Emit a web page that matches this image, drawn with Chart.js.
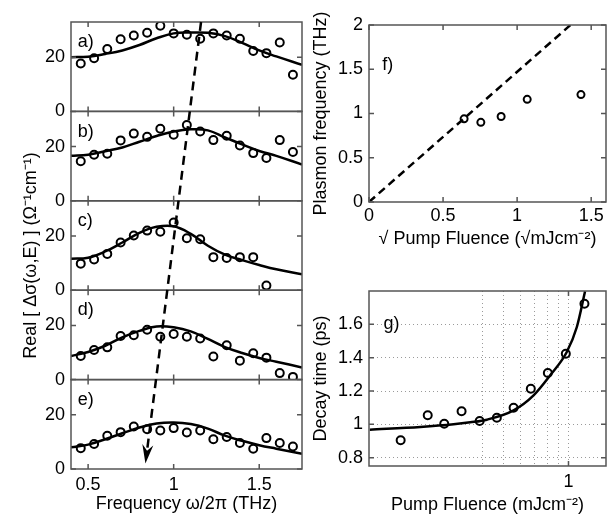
<!DOCTYPE html>
<html><head><meta charset="utf-8">
<script src="https://cdn.jsdelivr.net/npm/chart.js@4.4.1/dist/chart.umd.min.js"></script>
<style>
html,body{margin:0;padding:0;background:#fff;}
#fig{position:relative;width:616px;height:521px;overflow:hidden;background:#fff;}
#fig canvas{position:absolute;}
</style></head><body>
<div id="fig">
<canvas id="cL" width="310" height="521" style="left:0px;top:0px"></canvas>
<canvas id="cF" width="308" height="252" style="left:308px;top:0px"></canvas>
<canvas id="cG" width="308" height="259" style="left:308px;top:262px"></canvas>
</div>
<script>
// ---------- data: left panels (a-e) ----------
const freq = [0.457, 0.535, 0.612, 0.690, 0.767, 0.845, 0.922, 1.000, 1.077, 1.155, 1.232, 1.310, 1.387, 1.465, 1.542, 1.620, 1.697];
const sigA = [17.7, 19.6, 23.0, 26.6, 28.0, 29.0, 31.6, 28.8, 28.3, 26.8, 28.8, 28.0, 26.8, 22.3, 21.5, 25.4, 13.5];
const sigB = [14.6, 17.0, 17.4, 22.3, 24.8, 23.6, 26.6, 24.4, 28.0, 25.6, 22.4, 24.0, 20.4, 17.6, 15.8, 22.4, 18.0];
const sigC = [9.8, 11.3, 13.4, 17.6, 20.2, 22.0, 21.6, 25.0, 19.2, 18.8, 12.2, 11.9, 12.2, 12.2, 1.7];
const sigD = [8.7, 10.9, 11.9, 16.1, 16.4, 18.4, 15.8, 16.8, 15.8, 15.2, 8.5, 12.7, 7.0, 9.7, 8.1, 2.4, 1.0];
const sigE = [7.7, 9.2, 12.3, 13.6, 15.7, 14.7, 14.2, 15.1, 13.5, 14.2, 11.0, 11.8, 9.6, 7.5, 11.4, 9.6, 8.3];
const fitFreq = [0.40, 0.50, 0.60, 0.70, 0.80, 0.90, 1.00, 1.10, 1.20, 1.30, 1.40, 1.50, 1.60, 1.75];
const fitA = [20.0, 20.2, 21.2, 22.5, 24.5, 27.0, 28.8, 29.1, 29.0, 27.8, 25.3, 22.5, 20.3, 17.2];
const fitB = [16.6, 17.0, 18.3, 19.7, 21.8, 23.9, 25.6, 26.4, 26.0, 23.4, 20.8, 18.4, 16.6, 13.4];
const fitC = [11.6, 12.0, 14.3, 17.6, 21.2, 23.4, 23.6, 20.8, 16.4, 13.1, 11.1, 9.3, 7.7, 5.9];
const fitD = [8.7, 10.2, 12.5, 15.6, 18.0, 19.6, 19.3, 17.8, 15.0, 12.0, 9.8, 8.0, 6.6, 4.5];
const fitE = [8.0, 9.0, 11.0, 13.2, 15.3, 16.8, 17.2, 16.6, 14.9, 12.3, 10.4, 8.8, 7.5, 5.6];
const panelLabels = ['a)', 'b)', 'c)', 'd)', 'e)'];
const xTicksL = [0.5, 1, 1.5];
const yTicksL = [0, 20];
// dashed arrow (frequency, value): start on panel a, end on panel e
const arrowFreq = [1.16, 0.835];
const arrowVal = [33, 2.0];

// ---------- data: panel f ----------
const sqrtFluence = [0.642, 0.755, 0.892, 1.068, 1.431];
const plasmaFreq = [0.94, 0.90, 0.966, 1.16, 1.214];
const lineFX = [0, 1.36];
const lineFY = [0, 2.0];
const xTicksF = [0, 0.5, 1, 1.5];
const yTicksF = [0, 0.5, 1, 1.5, 2];

// ---------- data: panel g ----------
const fluence = [0.168, 0.224, 0.267, 0.321, 0.389, 0.467, 0.558, 0.670, 0.803, 0.972, 1.185];
const decay = [0.904, 1.054, 1.004, 1.078, 1.02, 1.04, 1.10, 1.214, 1.308, 1.424, 1.724];
const fitGX = [0.121, 0.207, 0.295, 0.352, 0.42, 0.558, 0.69, 0.823, 0.982, 1.093, 1.193];
const fitGY = [0.968, 0.984, 1.0, 1.012, 1.028, 1.084, 1.174, 1.294, 1.434, 1.584, 1.798];
const xTicksG = [0.4, 0.5, 0.6, 0.7, 0.8, 0.9, 1];
const yTicksG = [0.8, 1, 1.2, 1.4, 1.6];

const FONT = '"Liberation Sans", Arial, Helvetica, sans-serif';
Chart.defaults.font.family = FONT;
Chart.defaults.font.size = 18;
Chart.defaults.color = '#000';
const BOX = '#555';
const fmt = v => String(+Number(v).toFixed(3));
const pts = (xs, ys) => ys.map((y, i) => ({x: xs[i], y: y}));

function setTicks(list) { return s => { s.ticks = list.map(v => ({value: v})); }; }

// ---------- left column ----------
const ids = ['ya', 'yb', 'yc', 'yd', 'ye'];
const sigs = [sigA, sigB, sigC, sigD, sigE];
const fits = [fitA, fitB, fitC, fitD, fitE];
const dsL = [];
ids.forEach((id, i) => {
  dsL.push({data: pts(fitFreq, fits[i]), yAxisID: id, showLine: true, borderColor: '#000', borderWidth: 2.5, pointRadius: 0, tension: 0.4, fill: false});
  dsL.push({data: pts(freq, sigs[i]), yAxisID: id, showLine: false, pointRadius: 4, borderWidth: 2, borderColor: '#000', backgroundColor: 'rgba(0,0,0,0)'});
});
const scalesL = {
  x: {type: 'linear', position: 'bottom', min: 0.4, max: 1.75,
      grid: {display: false, drawTicks: false}, border: {display: false},
      ticks: {padding: 5, autoSkip: false, maxRotation: 0, callback: fmt},
      afterBuildTicks: setTicks(xTicksL), afterFit: s => { s.height = 52; },
      title: {display: true, text: 'Frequency ω/2π (THz)', padding: {top: 0, bottom: 6}}}
};
ids.forEach((id, i) => {
  scalesL[id] = {type: 'linear', position: 'left', stack: 'left', stackWeight: 1, weight: 5 - i,
    min: 0, max: 33, grid: {display: false, drawTicks: false}, border: {display: false},
    ticks: {padding: 6, callback: fmt},
    afterBuildTicks: setTicks(yTicksL), afterFit: s => { s.width = 71; }};
});
const leftDecor = {
  id: 'leftDecor',
  afterDraw(chart) {
    const ctx = chart.ctx, ca = chart.chartArea, xs = chart.scales.x;
    ctx.save();
    ctx.strokeStyle = BOX; ctx.lineWidth = 1.5;
    ids.forEach((id, i) => {
      const s = chart.scales[id];
      ctx.strokeRect(ca.left, s.top, ca.right - ca.left, s.bottom - s.top);
      ctx.beginPath();
      xTicksL.forEach(v => { const p = xs.getPixelForValue(v); ctx.moveTo(p, s.top); ctx.lineTo(p, s.top + 5); ctx.moveTo(p, s.bottom); ctx.lineTo(p, s.bottom - 5); });
      yTicksL.forEach(v => { const p = s.getPixelForValue(v); ctx.moveTo(ca.left, p); ctx.lineTo(ca.left + 5, p); ctx.moveTo(ca.right, p); ctx.lineTo(ca.right - 5, p); });
      ctx.stroke();
      ctx.fillStyle = '#000'; ctx.font = '18px ' + FONT; ctx.textAlign = 'left'; ctx.textBaseline = 'middle';
      ctx.fillText(panelLabels[i], xs.getPixelForValue(0.44), s.getPixelForValue(25.5));
    });
    // dashed arrow
    const x0 = xs.getPixelForValue(arrowFreq[0]), y0 = chart.scales.ya.getPixelForValue(arrowVal[0]);
    const x1 = xs.getPixelForValue(arrowFreq[1]), y1 = chart.scales.ye.getPixelForValue(arrowVal[1]);
    const L = Math.hypot(x1 - x0, y1 - y0), ux = (x1 - x0) / L, uy = (y1 - y0) / L, nx = -uy, ny = ux;
    ctx.strokeStyle = '#000'; ctx.lineWidth = 2.5; ctx.setLineDash([9, 6]);
    ctx.beginPath(); ctx.moveTo(x0, y0); ctx.lineTo(x1 - ux * 14, y1 - uy * 14); ctx.stroke();
    ctx.setLineDash([]);
    ctx.fillStyle = '#000'; ctx.beginPath();
    ctx.moveTo(x1, y1);
    ctx.lineTo(x1 - ux * 19 + nx * 5.5, y1 - uy * 19 + ny * 5.5);
    ctx.lineTo(x1 - ux * 13, y1 - uy * 13);
    ctx.lineTo(x1 - ux * 19 - nx * 5.5, y1 - uy * 19 - ny * 5.5);
    ctx.closePath(); ctx.fill();
    // y title spanning the stacked panels
    ctx.translate(31, (ca.top + ca.bottom) / 2 + 10); ctx.rotate(-Math.PI / 2);
    ctx.textAlign = 'center'; ctx.textBaseline = 'middle'; ctx.font = '18px ' + FONT;
    ctx.fillText('Real [ Δσ(ω,E) ] (Ω⁻¹cm⁻¹)', 0, 0);
    ctx.restore();
  }
};
new Chart(document.getElementById('cL'), {
  type: 'scatter',
  data: {datasets: dsL},
  options: {responsive: false, animation: false, devicePixelRatio: 1,
    layout: {padding: {left: 0, top: 22, right: 8, bottom: 0}},
    plugins: {legend: {display: false}, tooltip: {enabled: false}},
    scales: scalesL},
  plugins: [leftDecor]
});

// ---------- box plugin for f and g ----------
function boxPlugin(xTicks, yTicks, label, lx, ly) {
  return {
    id: 'box',
    afterDraw(chart) {
      const ctx = chart.ctx, ca = chart.chartArea, xs = chart.scales.x, ys = chart.scales.y;
      ctx.save();
      ctx.strokeStyle = BOX; ctx.lineWidth = 1.5;
      ctx.strokeRect(ca.left, ca.top, ca.right - ca.left, ca.bottom - ca.top);
      ctx.beginPath();
      xTicks.forEach(v => { const p = xs.getPixelForValue(v); ctx.moveTo(p, ca.top); ctx.lineTo(p, ca.top + 5); ctx.moveTo(p, ca.bottom); ctx.lineTo(p, ca.bottom - 5); });
      yTicks.forEach(v => { const p = ys.getPixelForValue(v); ctx.moveTo(ca.left, p); ctx.lineTo(ca.left + 5, p); ctx.moveTo(ca.right, p); ctx.lineTo(ca.right - 5, p); });
      ctx.stroke();
      ctx.fillStyle = '#000'; ctx.font = '18px ' + FONT; ctx.textAlign = 'left'; ctx.textBaseline = 'middle';
      ctx.fillText(label, xs.getPixelForValue(lx), ys.getPixelForValue(ly));
      ctx.restore();
    }
  };
}

// ---------- panel f ----------
new Chart(document.getElementById('cF'), {
  type: 'scatter',
  data: {datasets: [
    {data: pts(lineFX, lineFY), showLine: true, borderColor: '#000', borderWidth: 2.5, borderDash: [8, 5], pointRadius: 0, tension: 0},
    {data: pts(sqrtFluence, plasmaFreq), showLine: false, pointRadius: 3.5, borderWidth: 2, borderColor: '#000', backgroundColor: 'rgba(0,0,0,0)'}
  ]},
  options: {responsive: false, animation: false, devicePixelRatio: 1,
    layout: {padding: {left: 0, top: 25, right: 10, bottom: 0}},
    plugins: {legend: {display: false}, tooltip: {enabled: false}},
    scales: {
      x: {type: 'linear', min: 0, max: 1.6, grid: {display: false, drawTicks: false}, border: {display: false},
          ticks: {padding: 3, autoSkip: false, maxRotation: 0, callback: fmt},
          afterBuildTicks: setTicks(xTicksF), afterFit: s => { s.height = 50; },
          title: {display: true, text: '√ Pump Fluence (√mJcm⁻²)', padding: {top: 0, bottom: 2}}},
      y: {type: 'linear', min: 0, max: 2, grid: {display: false, drawTicks: false}, border: {display: false},
          ticks: {padding: 6, callback: fmt},
          afterBuildTicks: setTicks(yTicksF), afterFit: s => { s.width = 61; },
          title: {display: true, text: 'Plasmon frequency (THz)', padding: {top: 2, bottom: 0}}}
    }},
  plugins: [boxPlugin(xTicksF, yTicksF, 'f)', 0.09, 1.55)]
});

// ---------- panel g ----------
new Chart(document.getElementById('cG'), {
  type: 'scatter',
  data: {datasets: [
    {data: pts(fitGX, fitGY), showLine: true, borderColor: '#000', borderWidth: 2.5, pointRadius: 0, cubicInterpolationMode: 'monotone'},
    {data: pts(fluence, decay), showLine: false, pointRadius: 4, borderWidth: 2, borderColor: '#000', backgroundColor: 'rgba(0,0,0,0)'}
  ]},
  options: {responsive: false, animation: false, devicePixelRatio: 1,
    layout: {padding: {left: 0, top: 29, right: 10, bottom: 0}},
    plugins: {legend: {display: false}, tooltip: {enabled: false}},
    scales: {
      x: {type: 'logarithmic', min: 0.12, max: 1.49,
          grid: {display: true, color: '#9a9a9a', lineWidth: 1, drawTicks: false}, border: {display: false, dash: [1, 3]},
          ticks: {padding: 5, autoSkip: false, maxRotation: 0, callback: v => (Math.abs(v - 1) < 1e-9 ? '1' : '')},
          afterBuildTicks: setTicks(xTicksG), afterFit: s => { s.height = 55; },
          title: {display: true, text: 'Pump Fluence (mJcm⁻²)', padding: {top: 0, bottom: 5}}},
      y: {type: 'linear', min: 0.75, max: 1.8,
          grid: {display: true, color: '#9a9a9a', lineWidth: 1, drawTicks: false}, border: {display: false, dash: [1, 3]},
          ticks: {padding: 6, callback: fmt},
          afterBuildTicks: setTicks(yTicksG), afterFit: s => { s.width = 61; },
          title: {display: true, text: 'Decay time (ps)', padding: {top: 2, bottom: 0}}}
    }},
  plugins: [boxPlugin([1], yTicksG, 'g)', 0.14, 1.6)]
});
</script>
</body></html>
